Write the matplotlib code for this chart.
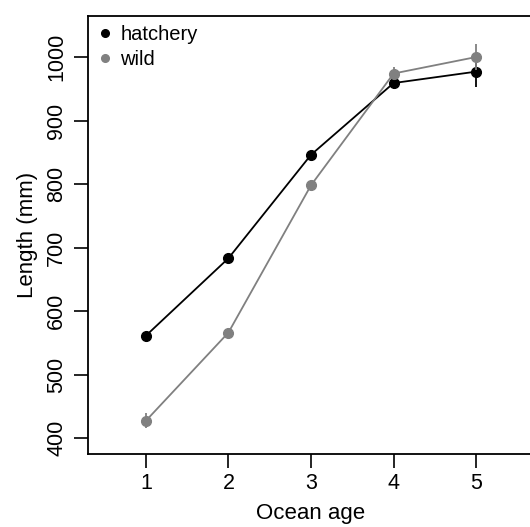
import matplotlib
matplotlib.use("Agg")
import matplotlib.pyplot as plt
from matplotlib.lines import Line2D

plt.rcParams['font.family'] = ['Liberation Sans', 'DejaVu Sans']

ocean_age = [1, 2, 3, 4, 5]
hatchery_len = [561, 683, 846, 959, 977]
hatchery_err = [5, 5, 5, 9, 24]
wild_len = [427, 566, 798, 974, 1000]
wild_err = [12, 6, 6, 10, 21]

x_ticks = [1, 2, 3, 4, 5]
y_ticks = [400, 500, 600, 700, 800, 900, 1000]

W, H = 530, 527
fig = plt.figure(figsize=(W / 100, H / 100), dpi=100)
ax = fig.add_axes([88 / W, (H - 454) / H, (534 - 88) / W, (454 - 16) / H])

black = '#000000'
grey = '#808080'

ax.errorbar(ocean_age, hatchery_len, yerr=hatchery_err, color=black,
            marker='o', markersize=7, linewidth=1.3, elinewidth=1.3,
            capsize=0, zorder=3)
ax.errorbar(ocean_age, wild_len, yerr=wild_err, color=grey,
            marker='o', markersize=7, linewidth=1.3, elinewidth=1.3,
            capsize=0, zorder=4)

ax.set_xlim(0.3, 5.7)
ax.set_ylim(374.8, 1064.6)
ax.set_xticks(x_ticks)
ax.set_xticklabels([str(v) for v in x_ticks])
ax.set_yticks(y_ticks)
ax.set_yticklabels([str(v) for v in y_ticks], rotation=90, va='center')

ax.tick_params(axis='x', length=10, width=1.2, pad=4, labelsize=15.5)
ax.tick_params(axis='y', length=10, width=1.2, pad=5, labelsize=15.5)
for s in ax.spines.values():
    s.set_linewidth(1.3)

ax.set_xlabel('Ocean age', fontsize=16, labelpad=6)
ax.set_ylabel('Length (mm)', fontsize=16, labelpad=6)

handles = [
    Line2D([], [], marker='o', linestyle='none', color=black, markersize=5.5),
    Line2D([], [], marker='o', linestyle='none', color=grey, markersize=5.5),
]
ax.legend(handles, ['hatchery', 'wild'], loc='upper left', frameon=False,
          bbox_to_anchor=(-0.009, 1.0),
          fontsize=14.5, handletextpad=0.15, borderaxespad=0.0,
          borderpad=0.45, labelspacing=0.3, handlelength=1.2)

fig.savefig('out.png', dpi=100)
